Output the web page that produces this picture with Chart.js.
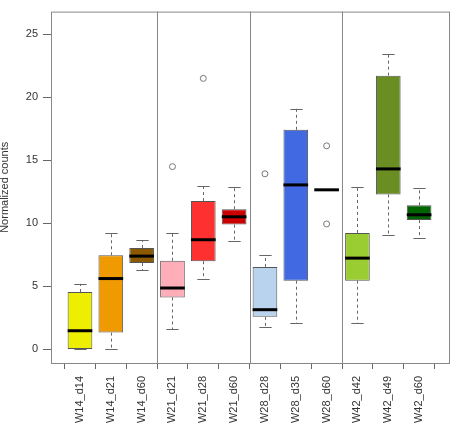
<!DOCTYPE html>
<html>
<head>
<meta charset="utf-8">
<script src="https://cdn.jsdelivr.net/npm/chart.js@4"></script>
<style>
  html, body { margin: 0; padding: 0; background: #fff; }
  #wrap { width: 460px; height: 429px; }
</style>
</head>
<body>
<div id="wrap"><canvas id="chart" width="460" height="429"></canvas></div>
<script>
const categories = ['W14_d14', 'W14_d21', 'W14_d60', 'W21_d21', 'W21_d28', 'W21_d60',
  'W28_d28', 'W28_d35', 'W28_d60', 'W42_d42', 'W42_d49', 'W42_d60'];
const whiskerLow = [0, 0, 6.27, 1.59, 5.57, 8.57, 1.8, 2.06, 12.66, 2.09, 9.09, 8.85];
const q1 = [0, 1.33, 6.85, 4.12, 7.0, 9.9, 2.58, 5.45, 12.66, 5.45, 12.29, 10.26];
const medians = [1.48, 5.62, 7.4, 4.87, 8.7, 10.52, 3.15, 13.05, 12.66, 7.24, 14.32, 10.68];
const q3 = [4.55, 7.47, 8.05, 7.03, 11.77, 11.12, 6.54, 17.42, 12.66, 9.24, 21.72, 11.43];
const whiskerHigh = [5.2, 9.24, 8.65, 9.24, 12.94, 12.87, 7.47, 19.09, 12.66, 12.9, 23.41, 12.79];
// outliers: group position (1-based) and value
const outlierGroup = [4, 5, 7, 9, 9];
const outlierValue = [14.5, 21.5, 13.93, 16.15, 9.95];
const boxColors = ['#EEEE00', '#EE9A00', '#8B5A00', '#FFAEB9', '#FF3030', '#CD0000',
  '#B9D3EE', '#4169E1', '#27408B', '#9ACD32', '#6B8E23', '#006400'];
const yTicks = [0, 5, 10, 15, 20, 25];
const separators = [3.5, 6.5, 9.5];

const FONT = 'Arial, "Liberation Sans", sans-serif';
const TEXT = '#333';

const boxPlotExtras = {
  id: 'boxPlotExtras',
  beforeDatasetsDraw(chart) {
    const { ctx, chartArea, scales: { x } } = chart;
    ctx.save();
    ctx.strokeStyle = '#888';
    ctx.lineWidth = 1;
    separators.forEach((s) => {
      const px = Math.round(x.getPixelForValue(s)) + 0.5;
      ctx.beginPath();
      ctx.moveTo(px, chartArea.top);
      ctx.lineTo(px, chartArea.bottom);
      ctx.stroke();
    });
    // whiskers
    const meta = chart.getDatasetMeta(0);
    const y = chart.scales.y;
    meta.data.forEach((bar, i) => {
      const cx = Math.round(bar.x) + 0.5;
      const capHalf = bar.width / 4;
      ctx.strokeStyle = '#666';
      ctx.lineWidth = 1;
      ctx.setLineDash([3, 3]);
      ctx.beginPath();
      ctx.moveTo(cx, y.getPixelForValue(q3[i]));
      ctx.lineTo(cx, y.getPixelForValue(whiskerHigh[i]));
      ctx.moveTo(cx, y.getPixelForValue(q1[i]));
      ctx.lineTo(cx, y.getPixelForValue(whiskerLow[i]));
      ctx.stroke();
      ctx.setLineDash([]);
      ctx.beginPath();
      [whiskerHigh[i], whiskerLow[i]].forEach((v) => {
        const py = Math.round(y.getPixelForValue(v)) + 0.5;
        ctx.moveTo(cx - capHalf, py);
        ctx.lineTo(cx + capHalf, py);
      });
      ctx.stroke();
    });
    ctx.restore();
  },
  afterDatasetsDraw(chart) {
    const { ctx, chartArea } = chart;
    const meta = chart.getDatasetMeta(0);
    const y = chart.scales.y;
    ctx.save();
    ctx.strokeStyle = '#000';
    ctx.lineWidth = 3;
    meta.data.forEach((bar, i) => {
      const py = y.getPixelForValue(medians[i]);
      ctx.beginPath();
      ctx.moveTo(bar.x - bar.width / 2, py);
      ctx.lineTo(bar.x + bar.width / 2, py);
      ctx.stroke();
    });
    ctx.strokeStyle = '#888';
    ctx.lineWidth = 1;
    ctx.strokeRect(chartArea.left + 0.5, chartArea.top + 0.5,
      chartArea.right - chartArea.left, chartArea.bottom - chartArea.top);
    // y axis title, as R places it at the very left edge (partly clipped)
    ctx.fillStyle = TEXT;
    ctx.font = '11px ' + FONT;
    ctx.textAlign = 'center';
    ctx.textBaseline = 'alphabetic';
    ctx.translate(8, (chartArea.top + chartArea.bottom) / 2);
    ctx.rotate(-Math.PI / 2);
    ctx.fillText('Normalized counts', 0, 0);
    ctx.restore();
  }
};

new Chart(document.getElementById('chart'), {
  type: 'bar',
  data: {
    datasets: [
      {
        type: 'bar',
        data: categories.map((c, i) => ({ x: i + 1, y: [q1[i], q3[i]] })),
        backgroundColor: boxColors,
        borderColor: '#555',
        borderWidth: 1,
        borderSkipped: false,
        categoryPercentage: 0.8,
        barPercentage: 1,
      },
      {
        type: 'scatter',
        data: outlierGroup.map((g, i) => ({ x: g, y: outlierValue[i] })),
        pointStyle: 'circle',
        pointRadius: 3,
        backgroundColor: '#fff',
        borderColor: '#777',
        borderWidth: 1,
      },
    ],
  },
  options: {
    responsive: false,
    animation: false,
    devicePixelRatio: 1,
    layout: { padding: { top: 6, right: 11, left: 0, bottom: 0 } },
    plugins: {
      legend: { display: false },
      tooltip: { enabled: false },
    },
    scales: {
      x: {
        type: 'linear',
        min: 0.06,
        max: 12.97,
        offset: false,
        afterBuildTicks: (scale) => {
          scale.ticks = categories.map((c, i) => ({ value: i + 1 }));
        },
        afterFit: (scale) => { scale.height = 66; },
        ticks: {
          autoSkip: false,
          minRotation: 90,
          maxRotation: 90,
          padding: 7,
          color: TEXT,
          font: { family: FONT, size: 11 },
          callback: (v) => categories[v - 1],
        },
        grid: { drawOnChartArea: false, drawTicks: true, tickLength: 6, color: '#666' },
        border: { display: false },
      },
      y: {
        min: -1.08,
        max: 26.8,
        afterBuildTicks: (scale) => {
          scale.ticks = yTicks.map((v) => ({ value: v }));
        },
        afterFit: (scale) => { scale.width = 51; },
        ticks: {
          padding: 5,
          color: TEXT,
          font: { family: FONT, size: 11 },
        },
        grid: { drawOnChartArea: false, drawTicks: true, tickLength: 8, color: '#666' },
        border: { display: false },
      },
    },
  },
  plugins: [boxPlotExtras],
});
</script>
</body>
</html>
